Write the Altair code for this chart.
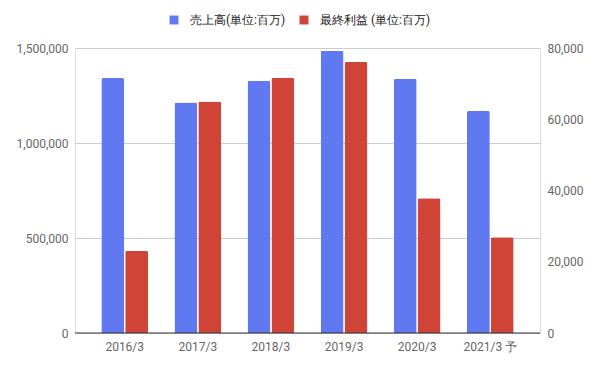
import altair as alt
import pandas as pd

years = ["2016/3", "2017/3", "2018/3", "2019/3", "2020/3", "2021/3 予"]
sales = [1342000, 1213000, 1327000, 1486000, 1338000, 1169000]
profit = [23100, 65000, 71600, 76100, 37800, 26900]
series = ["売上高(単位:百万)", "最終利益 (単位:百万)"]
colors = ["#6079f1", "#cf4437"]

df_s = pd.DataFrame({"year": years, "value": sales, "series": series[0]})
df_p = pd.DataFrame({"year": years, "value": profit, "series": series[1]})

FONT = "Roboto"
LABEL_COLOR = "#666666"

x_enc = alt.X("year:N", sort=years, title=None,
              scale=alt.Scale(paddingInner=0.36, paddingOuter=0.36),
              axis=alt.Axis(labelAngle=0, domain=False, ticks=False, labelPadding=8,
                            labelColor=LABEL_COLOR, labelFontSize=12, labelFont=FONT))
xo = alt.XOffset("series:N", sort=series, scale=alt.Scale(domain=series, paddingInner=0.04))
color = alt.Color("series:N", sort=series,
                  scale=alt.Scale(domain=series, range=colors),
                  legend=alt.Legend(title=None, orient="none", direction="horizontal",
                                    legendX=93, legendY=-34, symbolType="square",
                                    symbolSize=80, symbolStrokeWidth=0, labelFontSize=12,
                                    labelFont=FONT, labelColor="#222222",
                                    columnPadding=12, labelOffset=10))

left = alt.Chart(df_s).mark_bar(cornerRadiusTopLeft=2, cornerRadiusTopRight=2).encode(
    x=x_enc, xOffset=xo,
    y=alt.Y("value:Q", title=None,
            scale=alt.Scale(domain=[0, 1500000], nice=False),
            axis=alt.Axis(values=[0, 500000, 1000000, 1500000], format=",d",
                          domain=False, ticks=False, labelPadding=7,
                          grid=True, gridColor="#cccccc",
                          labelColor=LABEL_COLOR, labelFontSize=12, labelFont=FONT)),
    color=color,
)

right = alt.Chart(df_p).mark_bar(cornerRadiusTopLeft=2, cornerRadiusTopRight=2).encode(
    x=x_enc, xOffset=xo,
    y=alt.Y("value:Q", title=None,
            scale=alt.Scale(domain=[0, 80000], nice=False),
            axis=alt.Axis(orient="right", values=[0, 20000, 40000, 60000, 80000], format=",d",
                          domain=False, ticks=False, grid=False, labelPadding=7,
                          labelColor=LABEL_COLOR, labelFontSize=12, labelFont=FONT)),
    color=color,
)

zero = alt.Chart(pd.DataFrame({"z": [0]})).mark_rule(color="#333333", strokeWidth=1).encode(
    y=alt.Y("z:Q", scale=alt.Scale(domain=[0, 1500000], nice=False), axis=None)
)

chart = alt.layer(left, right).resolve_scale(y="independent")
chart = alt.layer(chart, zero).properties(
    width=465, height=285,
    autosize=alt.AutoSizeParams(type="none"),
    padding={"left": 67, "top": 40, "right": 48, "bottom": 27},
).configure_view(stroke=None).configure(font=FONT)

chart.save("out.html", embed_options={"renderer": "svg", "actions": False})
